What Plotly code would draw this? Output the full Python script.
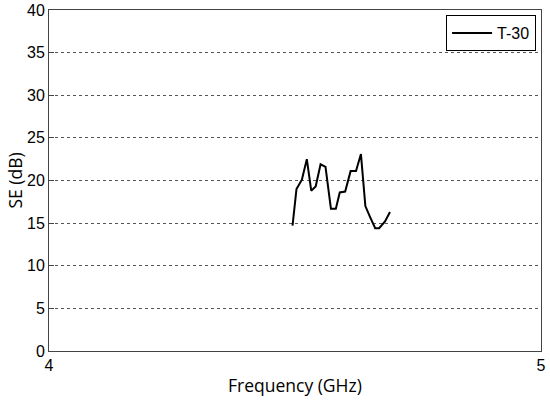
import plotly.graph_objects as go

freq_ghz = [4.495, 4.503, 4.514, 4.524, 4.533, 4.542, 4.552, 4.562, 4.573, 4.583,
            4.591, 4.602, 4.613, 4.624, 4.634, 4.643, 4.652, 4.663, 4.671, 4.683, 4.693]
se_db = [14.7, 19.0, 20.1, 22.5, 18.8, 19.3, 21.9, 21.6, 16.7, 16.7,
         18.6, 18.7, 21.1, 21.1, 23.1, 17.0, 15.8, 14.4, 14.4, 15.2, 16.3]

x_ticks = [4, 5]
y_ticks = [0, 5, 10, 15, 20, 25, 30, 35, 40]

_TICK_FONT = dict(family="Liberation Sans, Arial", size=16, color="black")
_TITLE_FONT = dict(family="Open Sans, Noto Sans", size=17.5, color="black")

fig = go.Figure()
fig.add_scatter(
    x=freq_ghz, y=se_db,
    mode="lines",
    name="T-30",
    line=dict(color="black", width=2),
)

fig.update_layout(
    width=550, height=402,
    margin=dict(l=49, r=9, t=10, b=51),
    paper_bgcolor="white",
    plot_bgcolor="white",
    showlegend=True,
    legend=dict(
        x=0.99, y=0.985, xanchor="right", yanchor="top",
        bordercolor="black", borderwidth=1, bgcolor="white",
        font=dict(family="Liberation Sans, Arial", size=16, color="black"),
        itemwidth=40,
    ),
    xaxis=dict(
        range=[4, 5],
        tickvals=x_ticks,
        tickfont=_TICK_FONT,
        automargin=False,
        showgrid=False,
        showline=True, linecolor="#444", linewidth=1, mirror=True,
        ticks="inside", ticklen=5, tickcolor="#444",
        zeroline=False,
    ),
    yaxis=dict(
        range=[0, 40],
        tickvals=y_ticks,
        tickfont=_TICK_FONT,
        automargin=False,
        showgrid=True, gridcolor="#555", griddash="dot", gridwidth=1,
        showline=True, linecolor="#444", linewidth=1, mirror=True,
        ticks="inside", ticklen=5, tickcolor="#444",
        zeroline=False,
    ),
)

# axis titles placed as annotations so the plot area stays fixed
fig.add_annotation(
    text="Frequency (GHz)", xref="paper", yref="paper",
    x=0.5, y=-0.1, xanchor="center", yanchor="middle",
    showarrow=False, font=_TITLE_FONT,
)
fig.add_annotation(
    text="SE (dB)", xref="paper", yref="paper",
    x=-0.071, y=0.5, xanchor="center", yanchor="middle",
    textangle=-90, showarrow=False, font=_TITLE_FONT,
)

# drop the page's default body margin so the figure sits at the window corner
fig.write_html(
    "out.html",
    config={"displayModeBar": False},
    post_script="document.body.style.margin = '0';",
)
